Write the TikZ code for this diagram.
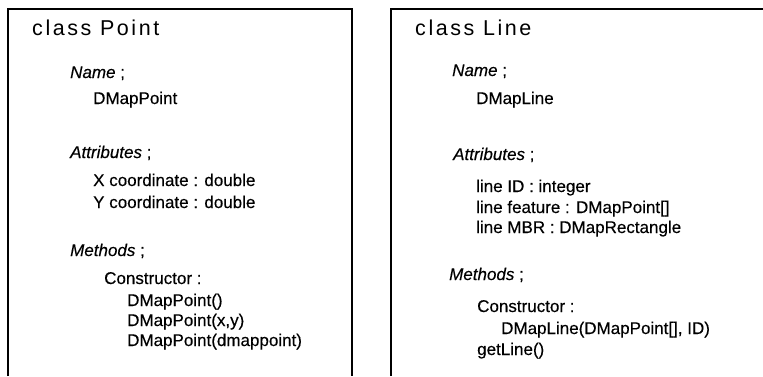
\documentclass[tikz,border=0pt]{standalone}
\usepackage{fontspec}
\setmainfont[FakeBold=0.3]{Liberation Sans}
\newfontfamily\titlefont[LetterSpace=12]{Liberation Sans}
\begin{document}
\begin{tikzpicture}[x=1pt,y=-1pt,
  frame/.style={line width=1.8pt},
  txt/.style={anchor=base west,inner sep=0pt,font=\fontsize{17}{20}\selectfont},
  ttl/.style={anchor=base west,inner sep=0pt,font=\titlefont\fontsize{21.5}{24}\selectfont}]
\useasboundingbox (0,0) rectangle (763,376);
\draw[frame] (8,376) -- (8,9) -- (352,9) -- (352,376);
\draw[frame] (391,376) -- (391,9) -- (763,9);
% left class
\node[ttl] (ptitle) at (32,35) {class Point};
\node[txt] (pname) at (70,78) {\textit{Name} ;};
\node[txt] (pnamev) at (93,104) {DMapPoint};
\node[txt] (pattr) at (70,158) {\textit{Attributes} ;};
\node[txt] (px) at (93,186) {X coordinate : double};
\node[txt] (py) at (93,208) {Y coordinate : double};
\node[txt] (pmeth) at (70,256) {\textit{Methods} ;};
\node[txt] (pcons) at (104,284) {Constructor :};
\node[txt] (pc1) at (127,306) {DMapPoint()};
\node[txt] (pc2) at (127,326) {DMapPoint(x,y)};
\node[txt] (pc3) at (127,346) {DMapPoint(dmappoint)};
% right class
\node[ttl] (ltitle) at (415,35) {class Line};
\node[txt] (lname) at (452,76) {\textit{Name} ;};
\node[txt] (lnamev) at (476,104) {DMapLine};
\node[txt] (lattr) at (453,160) {\textit{Attributes} ;};
\node[txt] (lid) at (476,192) {line ID : integer};
\node[txt] (lfeat) at (476,213) {line feature : DMapPoint[]};
\node[txt] (lmbr) at (476,233) {line MBR : DMapRectangle};
\node[txt] (lmeth) at (449,280) {\textit{Methods} ;};
\node[txt] (lcons) at (477,312) {Constructor :};
\node[txt] (lc1) at (501,334) {DMapLine(DMapPoint[], ID)};
\node[txt] (lget) at (477,355) {getLine()};
\end{tikzpicture}
\end{document}
